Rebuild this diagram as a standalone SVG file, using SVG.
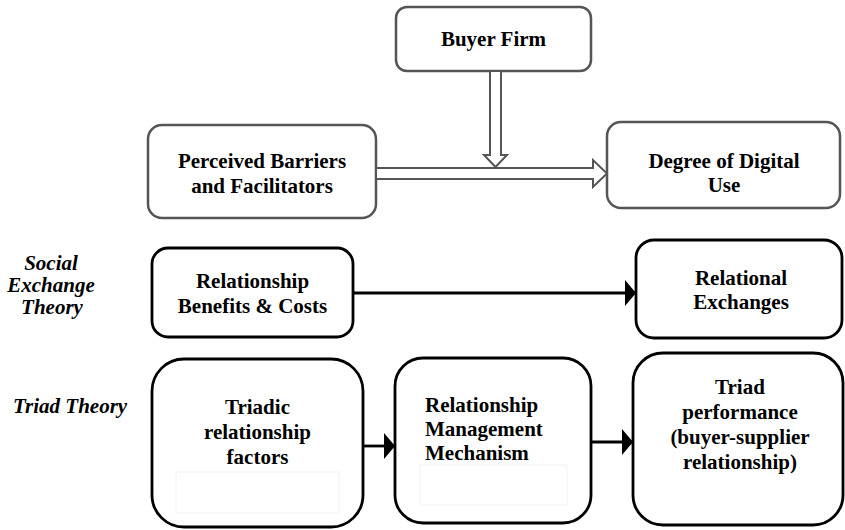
<svg xmlns="http://www.w3.org/2000/svg" width="845" height="530" viewBox="0 0 845 530">
  <style>
    text { font-family: 'Liberation Serif', 'Times New Roman', Tinos, 'DejaVu Serif', serif; font-size: 21px; font-weight: bold; fill: #000; }
    .c { text-anchor: middle; }
    .it { font-style: italic; }
    .grey { fill: #fff; stroke: #555; stroke-width: 2.5; }
    .blk { fill: #fff; stroke: #000; stroke-width: 2.8; }
    .faint { fill: none; stroke: #f2f2f2; stroke-width: 1; }
    .line { stroke: #000; stroke-width: 2.8; fill: none; }
    .hollow { fill: #fff; stroke: #555; stroke-width: 2; stroke-linejoin: miter; }
  </style>
  <defs>
    <marker id="ah" markerUnits="userSpaceOnUse" markerWidth="11" markerHeight="26" refX="11" refY="13" orient="auto">
      <path d="M0,0 L11,13 L0,26 Z" fill="#000"/>
    </marker>
  </defs>

  <rect width="845" height="530" fill="#fff"/>

  <g font-family="Liberation Serif, Times New Roman, serif">
  <!-- side labels -->
  <g id="label-set">
    <text class="it c" x="51" y="270">Social</text>
    <text class="it c" x="51" y="292">Exchange</text>
    <text class="it c" x="52" y="314">Theory</text>
  </g>
  <g id="label-triad">
    <text class="it" x="13" y="413">Triad Theory</text>
  </g>

  <!-- nodes -->
  <g id="buyer-firm">
    <rect class="grey" x="396" y="7" width="195" height="64" rx="11"/>
    <text class="c" x="493.5" y="46">Buyer Firm</text>
  </g>
  <g id="perceived">
    <rect class="grey" x="148" y="125" width="228" height="93" rx="14"/>
    <text class="c" x="262" y="168">Perceived Barriers</text>
    <text class="c" x="262" y="193">and Facilitators</text>
  </g>
  <g id="degree">
    <rect class="grey" x="607" y="122" width="233" height="86" rx="14"/>
    <text class="c" x="724" y="168">Degree of Digital</text>
    <text class="c" x="724" y="192">Use</text>
  </g>
  <g id="rel-benefits">
    <rect class="blk" x="152" y="248" width="201" height="89" rx="16"/>
    <text class="c" x="252.5" y="288">Relationship</text>
    <text class="c" x="252.5" y="313">Benefits &amp; Costs</text>
  </g>
  <g id="rel-exchanges">
    <rect class="blk" x="636" y="240" width="206" height="98" rx="18"/>
    <text class="c" x="741" y="285">Relational</text>
    <text class="c" x="741" y="309">Exchanges</text>
  </g>
  <g id="triadic">
    <rect class="blk" x="152" y="359" width="211" height="168" rx="32"/>
    <rect class="faint" x="176" y="472" width="163" height="41"/>
    <text class="c" x="257.5" y="414">Triadic</text>
    <text class="c" x="257.5" y="439">relationship</text>
    <text class="c" x="257.5" y="464">factors</text>
  </g>
  <g id="rmm">
    <rect class="blk" x="395" y="358" width="196" height="165" rx="28"/>
    <rect class="faint" x="420" y="465" width="147" height="40"/>
    <text x="425" y="412">Relationship</text>
    <text x="425" y="436">Management</text>
    <text x="425" y="460">Mechanism</text>
  </g>
  <g id="triad-performance">
    <rect class="blk" x="633" y="353" width="210" height="172" rx="30"/>
    <text class="c" x="740" y="394">Triad</text>
    <text class="c" x="740" y="419">performance</text>
    <text class="c" x="740" y="444">(buyer-supplier</text>
    <text class="c" x="740" y="469">relationship)</text>
  </g>
  </g>

  <!-- connectors -->
  <g id="connectors">
    <polygon class="hollow" points="376,168 593,168 593,160 607,173.5 593,187 593,179 376,179"/>
    <polygon class="hollow" points="490,71 501,71 501,155 507,155 495.5,167 484,155 490,155"/>
    <line class="line" x1="353" y1="293" x2="636" y2="293" marker-end="url(#ah)"/>
    <line class="line" x1="363" y1="446" x2="395" y2="446" marker-end="url(#ah)"/>
    <line class="line" x1="591" y1="442" x2="633" y2="442" marker-end="url(#ah)"/>
  </g>
</svg>
